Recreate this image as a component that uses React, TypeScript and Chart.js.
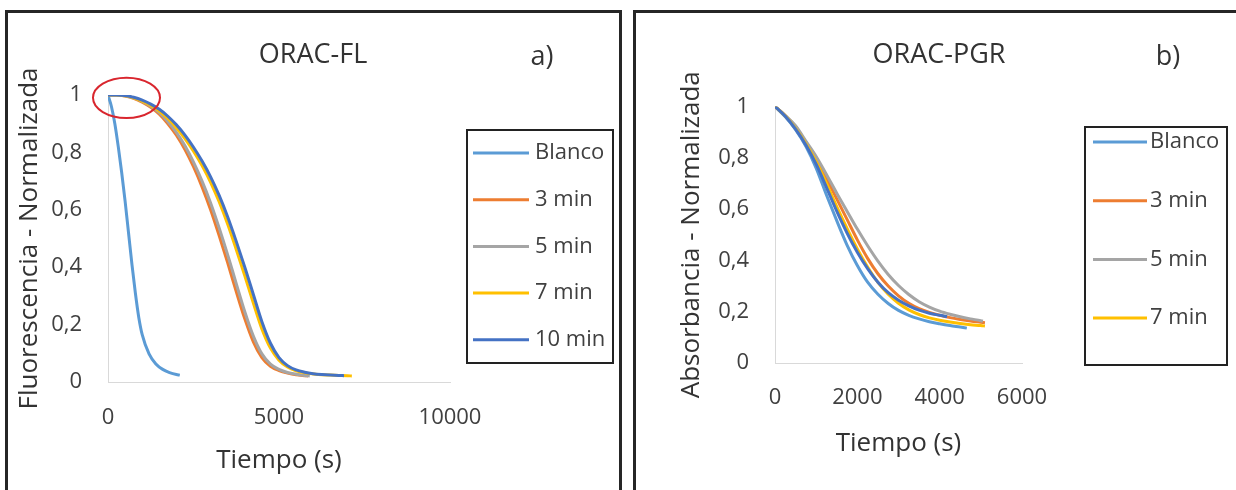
import React, { useEffect, useRef } from 'react';
import { Chart, registerables } from 'chart.js';

Chart.register(...registerables);

const FONT = "'Open Sans', 'DejaVu Sans', sans-serif";

// ---------- Panel a) ORAC-FL ----------
const flTitle = 'ORAC-FL';
const flLetter = 'a)';
const flYTitle = 'Fluorescencia - Normalizada';
const flXTicks = ['0', '5000', '10000'];
const flSeries = ['Blanco', '3 min', '5 min', '7 min', '10 min'];

const flBlancoTime = [0, 100, 200, 300, 400, 500, 600, 700, 800, 900, 1000, 1200, 1400, 1600, 1800, 2000, 2100];
const flBlancoValue = [1, 0.96, 0.9, 0.82, 0.73, 0.63, 0.52, 0.41, 0.31, 0.225, 0.165, 0.098, 0.063, 0.044, 0.033, 0.026, 0.024];

const fl3Time = [0, 250, 500, 750, 1000, 1250, 1500, 1750, 2000, 2250, 2500, 2750, 3000, 3250, 3500, 3750, 4000, 4250, 4500, 4750, 5000, 5250, 5500, 5750, 5850];
const fl3Value = [1, 1, 0.996, 0.988, 0.975, 0.957, 0.933, 0.9, 0.86, 0.81, 0.75, 0.68, 0.6, 0.51, 0.415, 0.315, 0.22, 0.14, 0.085, 0.055, 0.04, 0.031, 0.025, 0.022, 0.021];

const fl5Time = [0, 250, 500, 750, 1000, 1250, 1500, 1750, 2000, 2250, 2500, 2750, 3000, 3250, 3500, 3750, 4000, 4250, 4500, 4750, 5000, 5250, 5500, 5750, 5900];
const fl5Value = [1, 1, 0.997, 0.99, 0.978, 0.961, 0.939, 0.908, 0.87, 0.823, 0.766, 0.7, 0.624, 0.537, 0.443, 0.343, 0.245, 0.16, 0.098, 0.062, 0.044, 0.033, 0.027, 0.023, 0.021];

const fl7Time = [0, 250, 500, 750, 1000, 1250, 1500, 1750, 2000, 2250, 2500, 2750, 3000, 3250, 3500, 3750, 4000, 4250, 4500, 4750, 5000, 5250, 5500, 5750, 6000, 6250, 6500, 6750, 7000, 7130];
const fl7Value = [1, 1, 0.997, 0.99, 0.979, 0.964, 0.944, 0.918, 0.886, 0.848, 0.804, 0.754, 0.696, 0.628, 0.55, 0.462, 0.37, 0.275, 0.185, 0.118, 0.076, 0.052, 0.039, 0.032, 0.028, 0.025, 0.024, 0.023, 0.022, 0.021];

const fl10Time = [0, 250, 500, 750, 1000, 1250, 1500, 1750, 2000, 2250, 2500, 2750, 3000, 3250, 3500, 3750, 4000, 4250, 4500, 4750, 5000, 5250, 5500, 5750, 6000, 6250, 6500, 6750, 6900];
const fl10Value = [1, 1, 0.998, 0.992, 0.982, 0.968, 0.95, 0.926, 0.896, 0.86, 0.818, 0.77, 0.715, 0.65, 0.575, 0.49, 0.4, 0.305, 0.21, 0.135, 0.085, 0.057, 0.042, 0.034, 0.029, 0.026, 0.024, 0.023, 0.022];

// red ellipse annotation (data units: time centre, value centre, time radius, value radius)
const flEllipse = [541, 0.99, 980, 0.07];

// ---------- Panel b) ORAC-PGR ----------
const pgrTitle = 'ORAC-PGR';
const pgrLetter = 'b)';
const pgrYTitle = 'Absorbancia - Normalizada';
const pgrXTicks = ['0', '2000', '4000', '6000'];
const pgrSeries = ['Blanco', '3 min', '5 min', '7 min', '10 min'];
const pgrLegendSeries = ['Blanco', '3 min', '5 min', '7 min'];

const pgrBlancoTime = [0, 250, 500, 750, 1000, 1250, 1500, 1750, 2000, 2250, 2500, 2750, 3000, 3250, 3500, 3750, 4000, 4250, 4500, 4660];
const pgrBlancoValue = [1, 0.96, 0.91, 0.845, 0.76, 0.655, 0.555, 0.46, 0.38, 0.315, 0.268, 0.232, 0.205, 0.186, 0.172, 0.161, 0.153, 0.146, 0.14, 0.136];

const pgr3Time = [0, 250, 500, 750, 1000, 1250, 1500, 1750, 2000, 2250, 2500, 2750, 3000, 3250, 3500, 3750, 4000, 4250, 4500, 4750, 5000, 5100];
const pgr3Value = [1, 0.965, 0.92, 0.86, 0.8, 0.72, 0.64, 0.56, 0.48, 0.408, 0.348, 0.3, 0.262, 0.233, 0.212, 0.197, 0.186, 0.177, 0.17, 0.164, 0.159, 0.157];

const pgr5Time = [0, 250, 500, 750, 1000, 1250, 1500, 1750, 2000, 2250, 2500, 2750, 3000, 3250, 3500, 3750, 4000, 4250, 4500, 4750, 5000, 5050];
const pgr5Value = [1, 0.965, 0.925, 0.865, 0.805, 0.735, 0.662, 0.592, 0.522, 0.457, 0.397, 0.345, 0.302, 0.267, 0.239, 0.218, 0.202, 0.19, 0.18, 0.172, 0.165, 0.163];

const pgr7Time = [0, 250, 500, 750, 1000, 1250, 1500, 1750, 2000, 2250, 2500, 2750, 3000, 3250, 3500, 3750, 4000, 4250, 4500, 4750, 5000, 5100];
const pgr7Value = [1, 0.963, 0.915, 0.855, 0.785, 0.7, 0.61, 0.525, 0.445, 0.374, 0.314, 0.268, 0.233, 0.207, 0.189, 0.176, 0.167, 0.16, 0.154, 0.149, 0.146, 0.144];

const pgr10Time = [0, 250, 500, 750, 1000, 1250, 1500, 1750, 2000, 2250, 2500, 2750, 3000, 3250, 3500, 3750, 4000, 4180];
const pgr10Value = [1, 0.962, 0.912, 0.85, 0.775, 0.685, 0.592, 0.507, 0.432, 0.368, 0.315, 0.274, 0.245, 0.223, 0.206, 0.194, 0.186, 0.181];

const yTicks = ['0', '0,2', '0,4', '0,6', '0,8', '1'];
const seriesColors = ['#5B9BD5', '#ED7D31', '#A5A5A5', '#FFC000', '#4472C4'];

const pts = (t: number[], v: number[]) => t.map((x, i) => ({ x, y: v[i] }));

type Spec = {
  left: number;
  width: number;
  title: string;
  letter: string;
  yTitle: string;
  xTicks: string[];
  xMax: number;
  xStep: number;
  series: string[];
  legendSeries: string[];
  data: { x: number; y: number }[][];
  padTop: number;
  padRight: number;
  yWidth: number;
  xHeight: number;
  yTickPad: number;
  xTickPad: number;
  yTitlePad: number;
  xTitlePad: number;
  frameX: number;
  frameW: number;
  legendBox: [number, number, number, number];
  legendFirstY: number;
  legendStep: number;
  legendLine: [number, number];
  legendTextX: number;
  ellipse?: number[];
};

const specs: Spec[] = [
  {
    left: 0,
    width: 626,
    title: flTitle,
    letter: flLetter,
    yTitle: flYTitle,
    xTicks: flXTicks,
    xMax: 10000,
    xStep: 5000,
    series: flSeries,
    legendSeries: flSeries,
    data: [
      pts(flBlancoTime, flBlancoValue),
      pts(fl3Time, fl3Value),
      pts(fl5Time, fl5Value),
      pts(fl7Time, fl7Value),
      pts(fl10Time, fl10Value),
    ],
    padTop: 95,
    padRight: 176,
    yWidth: 108,
    xHeight: 108,
    yTickPad: 26,
    xTickPad: 23,
    yTitlePad: 14,
    xTitlePad: 14,
    frameX: 6.5,
    frameW: 614,
    legendBox: [467, 130, 146, 233],
    legendFirstY: 153,
    legendStep: 46.7,
    legendLine: [473, 529],
    legendTextX: 535,
    ellipse: flEllipse,
  },
  {
    left: 626,
    width: 610,
    title: pgrTitle,
    letter: pgrLetter,
    yTitle: pgrYTitle,
    xTicks: pgrXTicks,
    xMax: 6000,
    xStep: 2000,
    series: pgrSeries,
    legendSeries: pgrLegendSeries,
    data: [
      pts(pgrBlancoTime, pgrBlancoValue),
      pts(pgr3Time, pgr3Value),
      pts(pgr5Time, pgr5Value),
      pts(pgr7Time, pgr7Value),
      pts(pgr10Time, pgr10Value),
    ],
    padTop: 106.5,
    padRight: 214,
    yWidth: 149,
    xHeight: 127,
    yTickPad: 26,
    xTickPad: 22,
    yTitlePad: 50,
    xTitlePad: 31,
    frameX: 8.5,
    frameW: 700,
    legendBox: [459, 127, 142, 238],
    legendFirstY: 142,
    legendStep: 58.7,
    legendLine: [467, 521],
    legendTextX: 524,
  },
];

function buildConfig(spec: Spec): any {
  const decor = {
    id: 'decor',
    beforeDraw(chart: any) {
      const { ctx } = chart;
      ctx.save();
      ctx.fillStyle = '#ffffff';
      ctx.fillRect(0, 0, chart.width, chart.height);
      ctx.strokeStyle = '#262626';
      ctx.lineWidth = 3;
      ctx.strokeRect(spec.frameX, 11.5, spec.frameW, 520);
      ctx.restore();
    },
    afterDraw(chart: any) {
      const { ctx } = chart;
      ctx.save();
      ctx.fillStyle = '#333333';
      ctx.textAlign = 'center';
      ctx.textBaseline = 'middle';
      ctx.font = `27px ${FONT}`;
      ctx.fillText(spec.title, 313, 55);
      ctx.fillText(spec.letter, 542, 57);

      // legend
      const [bx, by, bw, bh] = spec.legendBox;
      ctx.strokeStyle = '#222222';
      ctx.lineWidth = 2;
      ctx.strokeRect(bx, by, bw, bh);
      const items = chart.data.datasets.filter((d: any) => spec.legendSeries.includes(d.label));
      ctx.textAlign = 'left';
      ctx.font = `22px ${FONT}`;
      items.forEach((d: any, i: number) => {
        const y = spec.legendFirstY + i * spec.legendStep;
        ctx.strokeStyle = d.borderColor;
        ctx.lineWidth = 3;
        ctx.beginPath();
        ctx.moveTo(spec.legendLine[0], y);
        ctx.lineTo(spec.legendLine[1], y);
        ctx.stroke();
        ctx.fillStyle = '#404040';
        ctx.fillText(d.label, spec.legendTextX, y);
      });
      ctx.restore();
    },
  };

  const ellipsePlugin = {
    id: 'ellipseMark',
    afterDatasetsDraw(chart: any) {
      if (!spec.ellipse) return;
      const { ctx, scales } = chart;
      const [t, v, rt, rv] = spec.ellipse;
      const cx = scales.x.getPixelForValue(t);
      const cy = scales.y.getPixelForValue(v);
      const rx = Math.abs(scales.x.getPixelForValue(t + rt) - cx);
      const ry = Math.abs(scales.y.getPixelForValue(v + rv) - cy);
      ctx.save();
      ctx.strokeStyle = '#D9262E';
      ctx.lineWidth = 2;
      ctx.beginPath();
      ctx.ellipse(cx, cy, rx, ry, 0, 0, Math.PI * 2);
      ctx.stroke();
      ctx.restore();
    },
  };

  const n = spec.series.length;
  return {
    type: 'line',
    data: {
      datasets: spec.series.map((label, i) => ({
        label,
        data: spec.data[i],
        borderColor: seriesColors[i],
        backgroundColor: seriesColors[i],
        borderWidth: 3,
        pointRadius: 0,
        fill: false,
        cubicInterpolationMode: 'monotone',
        order: n - i,
      })),
    },
    options: {
      responsive: false,
      animation: false,
      devicePixelRatio: 1,
      layout: { padding: { left: 0, top: spec.padTop, right: spec.padRight, bottom: 0 } },
      plugins: {
        legend: { display: false },
        tooltip: { enabled: false },
        title: { display: false },
      },
      scales: {
        x: {
          type: 'linear',
          min: 0,
          max: spec.xMax,
          grid: { display: false, drawTicks: false },
          border: { display: true, color: '#d9d9d9', width: 1 },
          ticks: {
            stepSize: spec.xStep,
            autoSkip: false,
            maxRotation: 0,
            padding: spec.xTickPad,
            color: '#404040',
            font: { family: FONT, size: 22 },
            callback: (_v: any, i: number) => spec.xTicks[i],
          },
          title: {
            display: true,
            text: 'Tiempo (s)',
            color: '#333333',
            font: { family: FONT, size: 26 },
            padding: { top: 0, bottom: spec.xTitlePad },
          },
          afterFit: (s: any) => {
            s.height = spec.xHeight;
          },
        },
        y: {
          type: 'linear',
          min: 0,
          max: 1,
          grid: { display: false, drawTicks: false },
          border: { display: true, color: '#d9d9d9', width: 1 },
          ticks: {
            stepSize: 0.2,
            autoSkip: false,
            padding: spec.yTickPad,
            color: '#404040',
            font: { family: FONT, size: 22 },
            callback: (_v: any, i: number) => yTicks[i],
          },
          title: {
            display: true,
            text: spec.yTitle,
            color: '#333333',
            font: { family: FONT, size: 26 },
            padding: { top: spec.yTitlePad, bottom: 0 },
          },
          afterFit: (s: any) => {
            s.width = spec.yWidth;
          },
        },
      },
    },
    plugins: [decor, ellipsePlugin],
  };
}

function Panel({ spec }: { spec: Spec }) {
  const ref = useRef<HTMLCanvasElement>(null);
  useEffect(() => {
    if (!ref.current) return;
    const chart = new Chart(ref.current, buildConfig(spec));
    return () => chart.destroy();
  }, [spec]);
  return (
    <canvas
      ref={ref}
      width={spec.width}
      height={490}
      style={{ position: 'absolute', left: spec.left, top: 0, width: spec.width, height: 490, display: 'block' }}
    />
  );
}

export default function App() {
  return (
    <div style={{ position: 'absolute', left: 0, top: 0, width: 1236, height: 490, background: '#fff', overflow: 'hidden' }}>
      {specs.map((s) => (
        <Panel key={s.title} spec={s} />
      ))}
    </div>
  );
}
